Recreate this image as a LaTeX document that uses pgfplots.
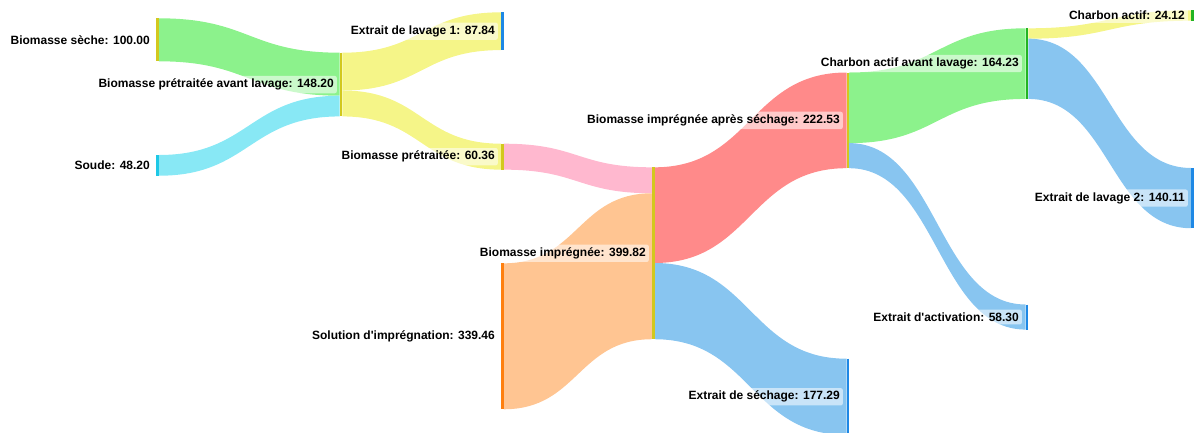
\documentclass[border=0pt]{standalone}
\usepackage{pgfplots}
\pgfplotsset{compat=1.18}
\usepackage{fontspec}
\setmainfont{Liberation Sans}

\definecolor{lgreen}{HTML}{8CF28C}
\definecolor{lcyan}{HTML}{88E8F5}
\definecolor{lyellow}{HTML}{F5F588}
\definecolor{lpink}{HTML}{FFB8CF}
\definecolor{lorange}{HTML}{FFC592}
\definecolor{lred}{HTML}{FF8A8A}
\definecolor{lblue}{HTML}{88C5F0}
\definecolor{nolive}{HTML}{D2C81E}
\definecolor{nblue}{HTML}{1E88E5}
\definecolor{norange}{HTML}{FF7F0E}
\definecolor{ncyan}{HTML}{1EC8E6}
\definecolor{ngreen}{HTML}{22B422}

\tikzset{lbl/.style={anchor=east, fill=white, fill opacity=0.55, text opacity=1,
    rounded corners=2pt, inner sep=3pt, font=\fontsize{12}{14}\selectfont\bfseries}}

% pixels per unit of mass
\def\fs{0.43}

% \flow{x source}{top at source}{x target}{top at target}{value}{colour}
\newcommand{\flow}[6]{%
  \pgfmathsetmacro\xa{#1+1.3}%
  \pgfmathsetmacro\xb{#3-1.3}%
  \pgfmathsetmacro\xm{(\xa+\xb)/2}%
  \pgfmathsetmacro\ya{#2}%
  \pgfmathsetmacro\yb{#4}%
  \pgfmathsetmacro\yab{\ya+#5*\fs}%
  \pgfmathsetmacro\ybb{\yb+#5*\fs}%
  \edef\temp{\noexpand\fill[#6] (axis cs:\xa,\ya) .. controls (axis cs:\xm,\ya) and (axis cs:\xm,\yb) .. (axis cs:\xb,\yb)
    -- (axis cs:\xb,\ybb) .. controls (axis cs:\xm,\ybb) and (axis cs:\xm,\yab) .. (axis cs:\xa,\yab) -- cycle;}%
  \temp}

\begin{document}
\begin{tikzpicture}
\begin{axis}[
    width=1198pt, height=432pt, scale only axis,
    xmin=0, xmax=1198, ymin=0, ymax=432,
    y dir=reverse,
    hide axis, clip=true,
  ]
  % links
  \flow{157.5}{18.3}{341}{52.7}{100}{lgreen}
  \flow{157.5}{155}{341}{52.7+100*\fs}{48.2}{lcyan}
  \flow{341}{52.7}{502.5}{12.3}{87.84}{lyellow}
  \flow{341}{52.7+87.84*\fs}{502.5}{143.7}{60.36}{lyellow}
  \flow{502.5}{143.7}{653.3}{167.3}{60.36}{lpink}
  \flow{502.5}{263.3}{653.3}{167.3+60.36*\fs}{339.46}{lorange}
  \flow{653.3}{167.3}{847.8}{72.5}{222.53}{lred}
  \flow{653.3}{167.3+222.53*\fs}{847.8}{358.7}{177.29}{lblue}
  \flow{847.8}{72.5}{1027}{28.3}{164.23}{lgreen}
  \flow{847.8}{72.5+164.23*\fs}{1027}{304.5}{58.3}{lblue}
  \flow{1027}{28.3}{1192.5}{10.3}{24.12}{lyellow}
  \flow{1027}{28.3+24.12*\fs}{1192.5}{168}{140.11}{lblue}

  % nodes
  \addplot[nolive, line width=2.5pt] coordinates {(157.5,18.3) (157.5,61.3)};
  \addplot[ncyan, line width=2.5pt] coordinates {(157.5,155) (157.5,175.7)};
  \addplot[nolive, line width=2.5pt] coordinates {(341,52.7) (341,116.4)};
  \addplot[nblue, line width=2.5pt] coordinates {(502.5,12.3) (502.5,50.1)};
  \addplot[nolive, line width=2.5pt] coordinates {(502.5,143.7) (502.5,169.7)};
  \addplot[norange, line width=2.5pt] coordinates {(502.5,263.3) (502.5,409.3)};
  \addplot[nolive, line width=2.5pt] coordinates {(653.3,167.3) (653.3,339.2)};
  \addplot[nolive, line width=2.5pt] coordinates {(847.8,72.5) (847.8,168.2)};
  \addplot[nblue, line width=2.5pt] coordinates {(847.8,358.7) (847.8,434.9)};
  \addplot[ngreen, line width=2.5pt] coordinates {(1027,28.3) (1027,98.9)};
  \addplot[nblue, line width=2.5pt] coordinates {(1027,304.5) (1027,329.6)};
  \addplot[ngreen, line width=2.5pt] coordinates {(1192.5,10.3) (1192.5,20.7)};
  \addplot[nblue, line width=2.5pt] coordinates {(1192.5,168) (1192.5,228.2)};

  % labels
  \node[lbl] at (axis cs:153,39.8) {Biomasse sèche: 100.00};
  \node[lbl] at (axis cs:153,165.4) {Soude: 48.20};
  \node[lbl] at (axis cs:337,84.6) {Biomasse prétraitée avant lavage: 148.20};
  \node[lbl] at (axis cs:498,31.2) {Extrait de lavage 1: 87.84};
  \node[lbl] at (axis cs:498,156.7) {Biomasse prétraitée: 60.36};
  \node[lbl] at (axis cs:498,336.3) {Solution d\textquotesingle imprégnation: 339.46};
  \node[lbl] at (axis cs:649,253.3) {Biomasse imprégnée: 399.82};
  \node[lbl] at (axis cs:843,120.4) {Biomasse imprégnée après séchage: 222.53};
  \node[lbl] at (axis cs:843,396.8) {Extrait de séchage: 177.29};
  \node[lbl] at (axis cs:1022,63.6) {Charbon actif avant lavage: 164.23};
  \node[lbl] at (axis cs:1022,317) {Extrait d\textquotesingle activation: 58.30};
  \node[lbl] at (axis cs:1188,15.5) {Charbon actif: 24.12};
  \node[lbl] at (axis cs:1188,198.1) {Extrait de lavage 2: 140.11};
\end{axis}
\pgfresetboundingbox
\path (current axis.south west) rectangle (current axis.north east);
\end{tikzpicture}
\end{document}
